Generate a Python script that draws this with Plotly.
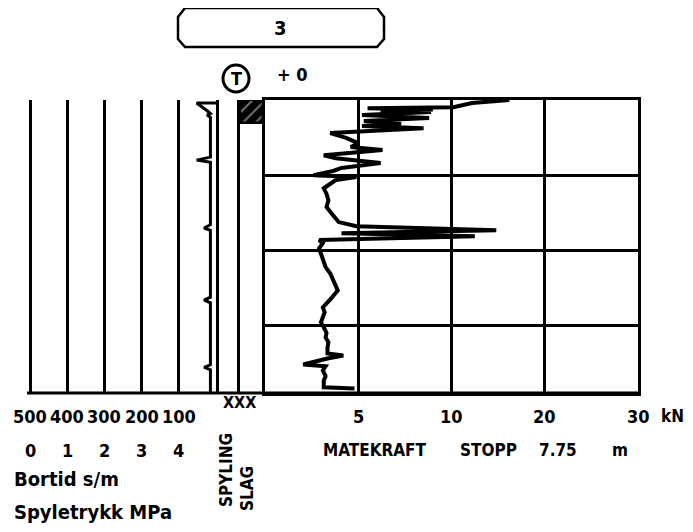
import numpy as np
import plotly.graph_objects as go

# page body has an 8px default margin: the figure is drawn 8px in from the window corner
OFF = 8
W, H = 685, 516

# ---------------- data ----------------
force_depth_m = [0.00, 0.08, 0.19, 0.22, 0.25, 0.27, 0.32, 0.40, 0.48, 0.56, 0.64, 0.69,
                 0.75, 0.83, 0.88, 1.01, 1.15, 1.25, 1.33, 1.47, 1.55, 1.68,
                 1.81, 1.89, 2.00, 2.05, 2.13, 2.35, 2.50, 2.67, 2.85, 3.01, 3.25, 3.36,
                 3.47, 3.55, 3.63, 3.73, 3.81, 3.95, 4.08, 4.25, 4.45, 4.62, 4.80, 5.07, 5.28,
                 5.52, 5.65, 5.79, 5.92, 6.05, 6.20, 6.32, 6.45, 6.59, 6.75, 6.80, 6.88, 7.04,
                 7.09, 7.20, 7.35, 7.47, 7.65, 7.68]
force_kn = [16.2, 12.2, 10.2, 5.5, 9.0, 6.2, 8.9, 5.2, 8.8, 5.3, 7.3, 5.2,
            8.5, 5.05, 3.5, 4.35, 5.0, 4.6, 6.3, 3.15, 3.8, 6.2,
            4.1, 3.65, 2.6, 4.9, 3.8, 3.15, 3.3, 3.4, 3.3, 3.55, 3.95, 4.9,
            14.8, 4.1, 12.5, 2.9, 3.1, 2.9, 3.0, 3.15, 3.25, 3.5, 3.65, 3.9, 3.55,
            3.1, 3.2, 3.1, 3.0, 3.15, 3.3, 3.25, 3.4, 3.35, 3.35, 4.2, 3.35, 2.05,
            3.25, 3.1, 3.25, 3.15, 3.15, 4.8]

bortid_depth_m = [0.08, 0.08, 0.30, 0.36, 0.40, 0.46, 1.52, 1.60, 1.66, 3.32, 3.41, 3.47,
                  5.25, 5.33, 5.40, 7.05, 7.12, 7.18, 7.80]
bortid_s_per_m = [0, 52, 22, 15, 24, 15, 15, 52, 15, 15, 32, 15,
                  15, 32, 15, 15, 32, 15, 15]

spyling_slag_interval_m = [0.0, 0.62]

bortid_ticks = [500, 400, 300, 200, 100]
bortid_range = [510, 0]
spyletrykk_ticks = [0, 1, 2, 3, 4]
force_ticks_kn = [5, 10, 20, 30]
force_scale_kn = [0, 5, 10, 20, 30]      # piecewise scale of the feed-force panel
force_scale_pos = [0, 1, 2, 3, 4]
depth_grid_m = [2, 4, 6]
depth_range_m = [7.8, 0]
stop_depth_m = 7.75
hole_no = "3"
level_txt = "+ 0"

# ---------------- helpers ----------------
def px(x):
    return (x - OFF) / W


def py(y):
    return 1 - (y - OFF) / H


def force_pos(v):
    return np.interp(v, force_scale_kn, force_scale_pos)


def spyl_to_bortid(v):
    return 500 - 100 * np.asarray(v)


FONT = "Liberation Sans Narrow, Arial Narrow, DejaVu Sans Condensed, DejaVu Sans, sans-serif"
BLACK = "black"
ydom = [py(393), py(100)]
# bortid panel: 500 s/m at x=30, 0 s/m at x=216
b_left = 216 - (216 - 30) * bortid_range[0] / 500

fig = go.Figure()

fig.add_trace(go.Scatter(x=bortid_s_per_m, y=bortid_depth_m, mode="lines",
                         line=dict(color=BLACK, width=3), xaxis="x", yaxis="y",
                         showlegend=False, hoverinfo="skip"))

fig.add_trace(go.Bar(x=[0.5], y=[spyling_slag_interval_m[1] - spyling_slag_interval_m[0]],
                     base=[spyling_slag_interval_m[0]], width=[1.0],
                     xaxis="x2", yaxis="y2", showlegend=False, hoverinfo="skip",
                     marker=dict(color=BLACK, line=dict(color=BLACK, width=2.5),
                                 pattern=dict(shape="/", fgcolor="white", bgcolor=BLACK,
                                              size=9, solidity=0.2))))

fig.add_trace(go.Scatter(x=force_pos(force_kn), y=force_depth_m, mode="lines",
                         line=dict(color=BLACK, width=4), xaxis="x3", yaxis="y3",
                         showlegend=False, hoverinfo="skip"))

common_y = dict(domain=ydom, range=depth_range_m, showticklabels=False, ticks="",
                zeroline=False, linecolor=BLACK, linewidth=3)

fig.update_layout(
    width=W, height=H, margin=dict(l=0, r=0, t=0, b=0),
    paper_bgcolor="white", plot_bgcolor="rgba(0,0,0,0)",
    font=dict(family=FONT, color=BLACK, size=18, weight="bold"),
    bargap=0,
    xaxis=dict(domain=[px(b_left), px(216)], range=bortid_range, tickvals=bortid_ticks,
               showgrid=True, gridcolor=BLACK, gridwidth=3, showticklabels=False,
               ticks="", zeroline=False, showline=False, anchor="y"),
    yaxis=dict(anchor="x", side="right", showline=True, showgrid=False, **common_y),
    xaxis2=dict(domain=[px(240), px(263)], range=[0, 1], showgrid=False,
                showticklabels=False, ticks="", zeroline=False, showline=False, anchor="y2"),
    yaxis2=dict(anchor="x2", side="left", showline=True, showgrid=False, matches="y", **common_y),
    xaxis3=dict(domain=[px(265), px(638)], range=[0, 4], tickvals=[1, 2, 3],
                showgrid=True, gridcolor=BLACK, gridwidth=3, showticklabels=False, ticks="",
                zeroline=False, showline=True, mirror=True, linecolor=BLACK, linewidth=3,
                anchor="y3"),
    yaxis3=dict(anchor="x3", tickvals=depth_grid_m, showgrid=True, gridcolor=BLACK,
                gridwidth=3, showline=True, mirror=True, matches="y", **common_y),
)

shapes = []
# long base line under all columns
shapes.append(dict(type="line", xref="paper", yref="paper", x0=px(27), x1=px(641),
                   y0=py(393), y1=py(393), line=dict(color=BLACK, width=3)))
# hole number box (chamfered)
pts = [(185, 8), (377, 8), (384, 17), (384, 39), (377, 47), (185, 47), (178, 39), (178, 17)]
path = "M " + " L ".join(f"{px(a):.5f},{py(b):.5f}" for a, b in pts) + " Z"
shapes.append(dict(type="path", xref="paper", yref="paper", path=path,
                   line=dict(color=BLACK, width=2.5)))
# circle with T
shapes.append(dict(type="circle", xref="paper", yref="paper",
                   x0=px(223), x1=px(249), y0=py(65), y1=py(92),
                   line=dict(color=BLACK, width=3)))
fig.update_layout(shapes=shapes)

ann = []


def txt(x, y, s, size=18, xref="paper", yref="paper", angle=0, xanchor="center"):
    ann.append(dict(x=x, y=y, xref=xref, yref=yref, text=s, showarrow=False,
                    font=dict(size=size, family=FONT, color=BLACK, weight="bold"),
                    xanchor=xanchor, yanchor="middle", textangle=angle))


ROW1, ROW2, ROW3, ROW4 = 416, 450, 479, 512
for v in bortid_ticks:
    txt(v, py(ROW1), str(v), xref="x")
for v in spyletrykk_ticks:
    txt(float(spyl_to_bortid(v)), py(ROW2), str(v), xref="x")
for v in force_ticks_kn:
    txt(float(force_pos(v)), py(ROW1), str(v), xref="x3")
txt(px(672), py(ROW1), "kN", size=17)
txt(px(12), py(ROW3), "Bortid s/m", size=20, xanchor="left")
txt(px(12), py(ROW4), "Spyletrykk MPa", size=20, xanchor="left")
txt(px(239), py(402), "XXX", size=16)
txt(px(226), py(470), "SPYLING", size=17, angle=-90)
txt(px(247), py(488), "SLAG", size=17, angle=-90)
txt(px(375), py(ROW2), "MATEKRAFT", size=17)
txt(px(488), py(ROW2), "STOPP", size=17)
txt(px(558), py(ROW2), f"{stop_depth_m:.2f}", size=17)
txt(px(620), py(ROW2), "m", size=17)
txt(px(280), py(28), hole_no, size=20)
txt(px(236), py(78), "T", size=18)
txt(px(292), py(74), level_txt, size=18)
fig.update_layout(annotations=ann)

fig.write_html("out.html")
